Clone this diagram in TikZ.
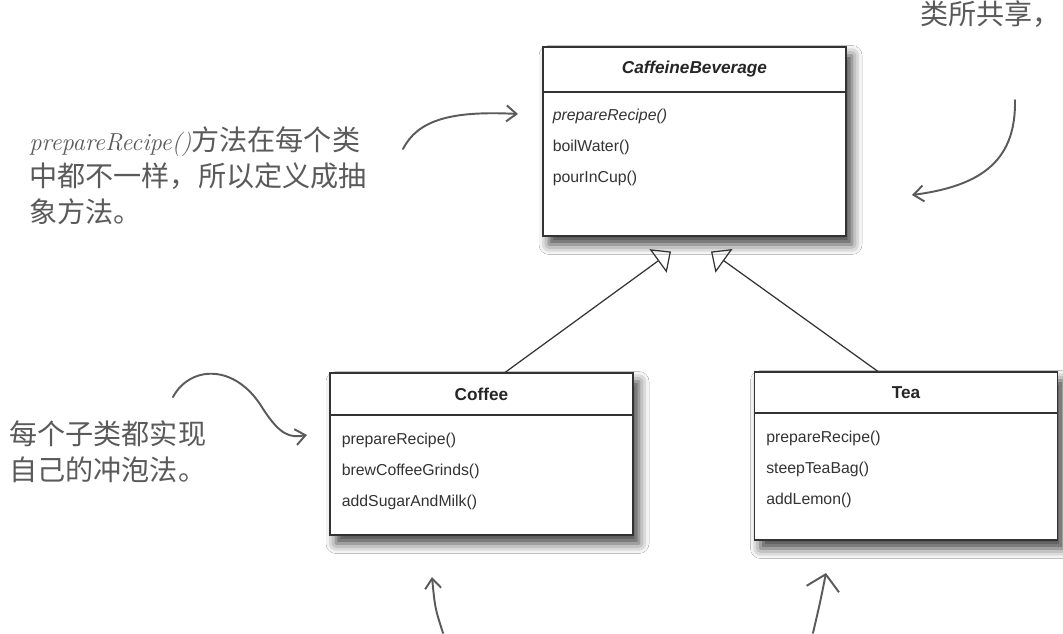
\documentclass[tikz,border=0pt]{standalone}
\usepackage{fontspec}
\usepackage{tikz}
\usetikzlibrary{arrows.meta,shadows.blur,positioning}

\newfontfamily\umlfont{Liberation Sans}
\newfontfamily\cjk{Noto Sans CJK SC}
\definecolor{ink}{HTML}{5A5A5A}
\definecolor{umlline}{HTML}{333333}

\tikzset{
  classbox/.style={draw=umlline, line width=0.6pt, fill=white, minimum width=6.06cm,
    blur shadow={shadow xshift=0.12cm, shadow yshift=-0.17cm, shadow blur radius=0.2cm, shadow opacity=75}},
  classname/.style={draw=umlline, line width=0.6pt, minimum width=6.06cm, anchor=north, inner sep=0pt,
    font=\umlfont\bfseries\fontsize{9.8}{11}\selectfont, text=black!85},
  method/.style={anchor=base west, inner sep=0pt, font=\umlfont\fontsize{9}{11}\selectfont, text=black!80},
  inherits/.style={draw=umlline, line width=0.7pt, -{Triangle[open, length=0.32cm, width=0.58cm]}},
  hand/.style={draw=ink, line width=1.1pt, line cap=round, -{Straight Barb[length=0.2cm, width=0.32cm]}},
  note/.style={align=left, text=ink, inner sep=0pt, font=\cjk\fontsize{16}{20.5}\selectfont},
}

\begin{document}
\begin{tikzpicture}
    \path[fill=white] (0, 0) rectangle (21.26, 12.66);
    \useasboundingbox (0, 0) rectangle (21.26, 12.66);

    % CaffeineBeverage
    \node[classbox, minimum height=3.78cm] (bev) at (13.89, 9.83) {};
    \node[classname, minimum height=0.9cm] (bevname) at (bev.north) {\textit{CaffeineBeverage}};
    \node[method] (bevprep) at ([xshift=0.2cm, yshift=-0.56cm]bevname.south west) {\textit{prepareRecipe()}};
    \node[method] (bevboil) at ([yshift=-0.62cm]bevprep.base west) {boilWater()};
    \node[method] (bevpour) at ([yshift=-0.62cm]bevboil.base west) {pourInCup()};

    % Coffee
    \node[classbox, minimum height=3.24cm] (coffee) at (9.63, 3.58) {};
    \node[classname, minimum height=0.84cm] (coffeename) at (coffee.north) {Coffee};
    \node[method] (coffeeprep) at ([xshift=0.24cm, yshift=-0.58cm]coffeename.south west) {prepareRecipe()};
    \node[method] (coffeebrew) at ([yshift=-0.62cm]coffeeprep.base west) {brewCoffeeGrinds()};
    \node[method] (coffeeadd) at ([yshift=-0.62cm]coffeebrew.base west) {addSugarAndMilk()};

    % Tea
    \node[classbox, minimum height=3.36cm] (tea) at (18.12, 3.54) {};
    \node[classname, minimum height=0.82cm] (teaname) at (tea.north) {Tea};
    \node[method] (teaprep) at ([xshift=0.24cm, yshift=-0.58cm]teaname.south west) {prepareRecipe()};
    \node[method] (teasteep) at ([yshift=-0.62cm]teaprep.base west) {steepTeaBag()};
    \node[method] (teaadd) at ([yshift=-0.62cm]teasteep.base west) {addLemon()};

    % inheritance
    \draw[inherits] ([xshift=0.47cm]coffee.north) -- ([xshift=-0.47cm, yshift=-0.30cm]bev.south);
    \draw[inherits] ([xshift=-0.56cm]tea.north) -- ([xshift=0.33cm, yshift=-0.30cm]bev.south);

    % notes
    \node[note, anchor=west] (prepnote) at (0.58, 9.14)
        {{\rmfamily\itshape\fontsize{14}{20.5}\selectfont prepareRecipe()}方法在每个类\\中都不一样，所以定义成抽\\象方法。};
    \node[note, anchor=west] (subnote) at (0.18, 3.63) {每个子类都实现\\自己的冲泡法。};
    \node[note, anchor=west] (sharenote) at (18.40, 12.38) {类所共享，};

    % hand arrows
    \coordinate (prepfrom) at (8.06, 9.68);
    \coordinate (prepto) at (10.36, 10.38);
    \draw[hand] (prepfrom) .. controls (8.35, 10.25) and (9.0, 10.45) .. (prepto);

    \coordinate (sharefrom) at (20.30, 10.66);
    \coordinate (shareto) at (18.24, 8.76);
    \draw[hand] (sharefrom) .. controls (20.32, 9.5) and (19.7, 8.95) .. (shareto);

    \coordinate (subfrom) at (3.46, 4.72);
    \coordinate (subto) at (6.14, 3.96);
    \draw[hand] (subfrom) .. controls (3.8, 5.35) and (4.7, 5.4) .. (5.25, 4.5)
        .. controls (5.6, 3.95) and (5.8, 3.9) .. (subto);

    \coordinate (coffeefrom) at (8.86, 0);
    \coordinate (coffeeto) at (8.64, 1.12);
    \draw[hand] (coffeefrom) .. controls (8.7, 0.5) .. (coffeeto);

    \coordinate (teafrom) at (16.26, 0);
    \coordinate (teato) at (16.52, 1.20);
    \draw[hand, -{Straight Barb[length=0.3cm, width=0.66cm]}] (teafrom) .. controls (16.4, 0.6) .. (teato);
\end{tikzpicture}
\end{document}
